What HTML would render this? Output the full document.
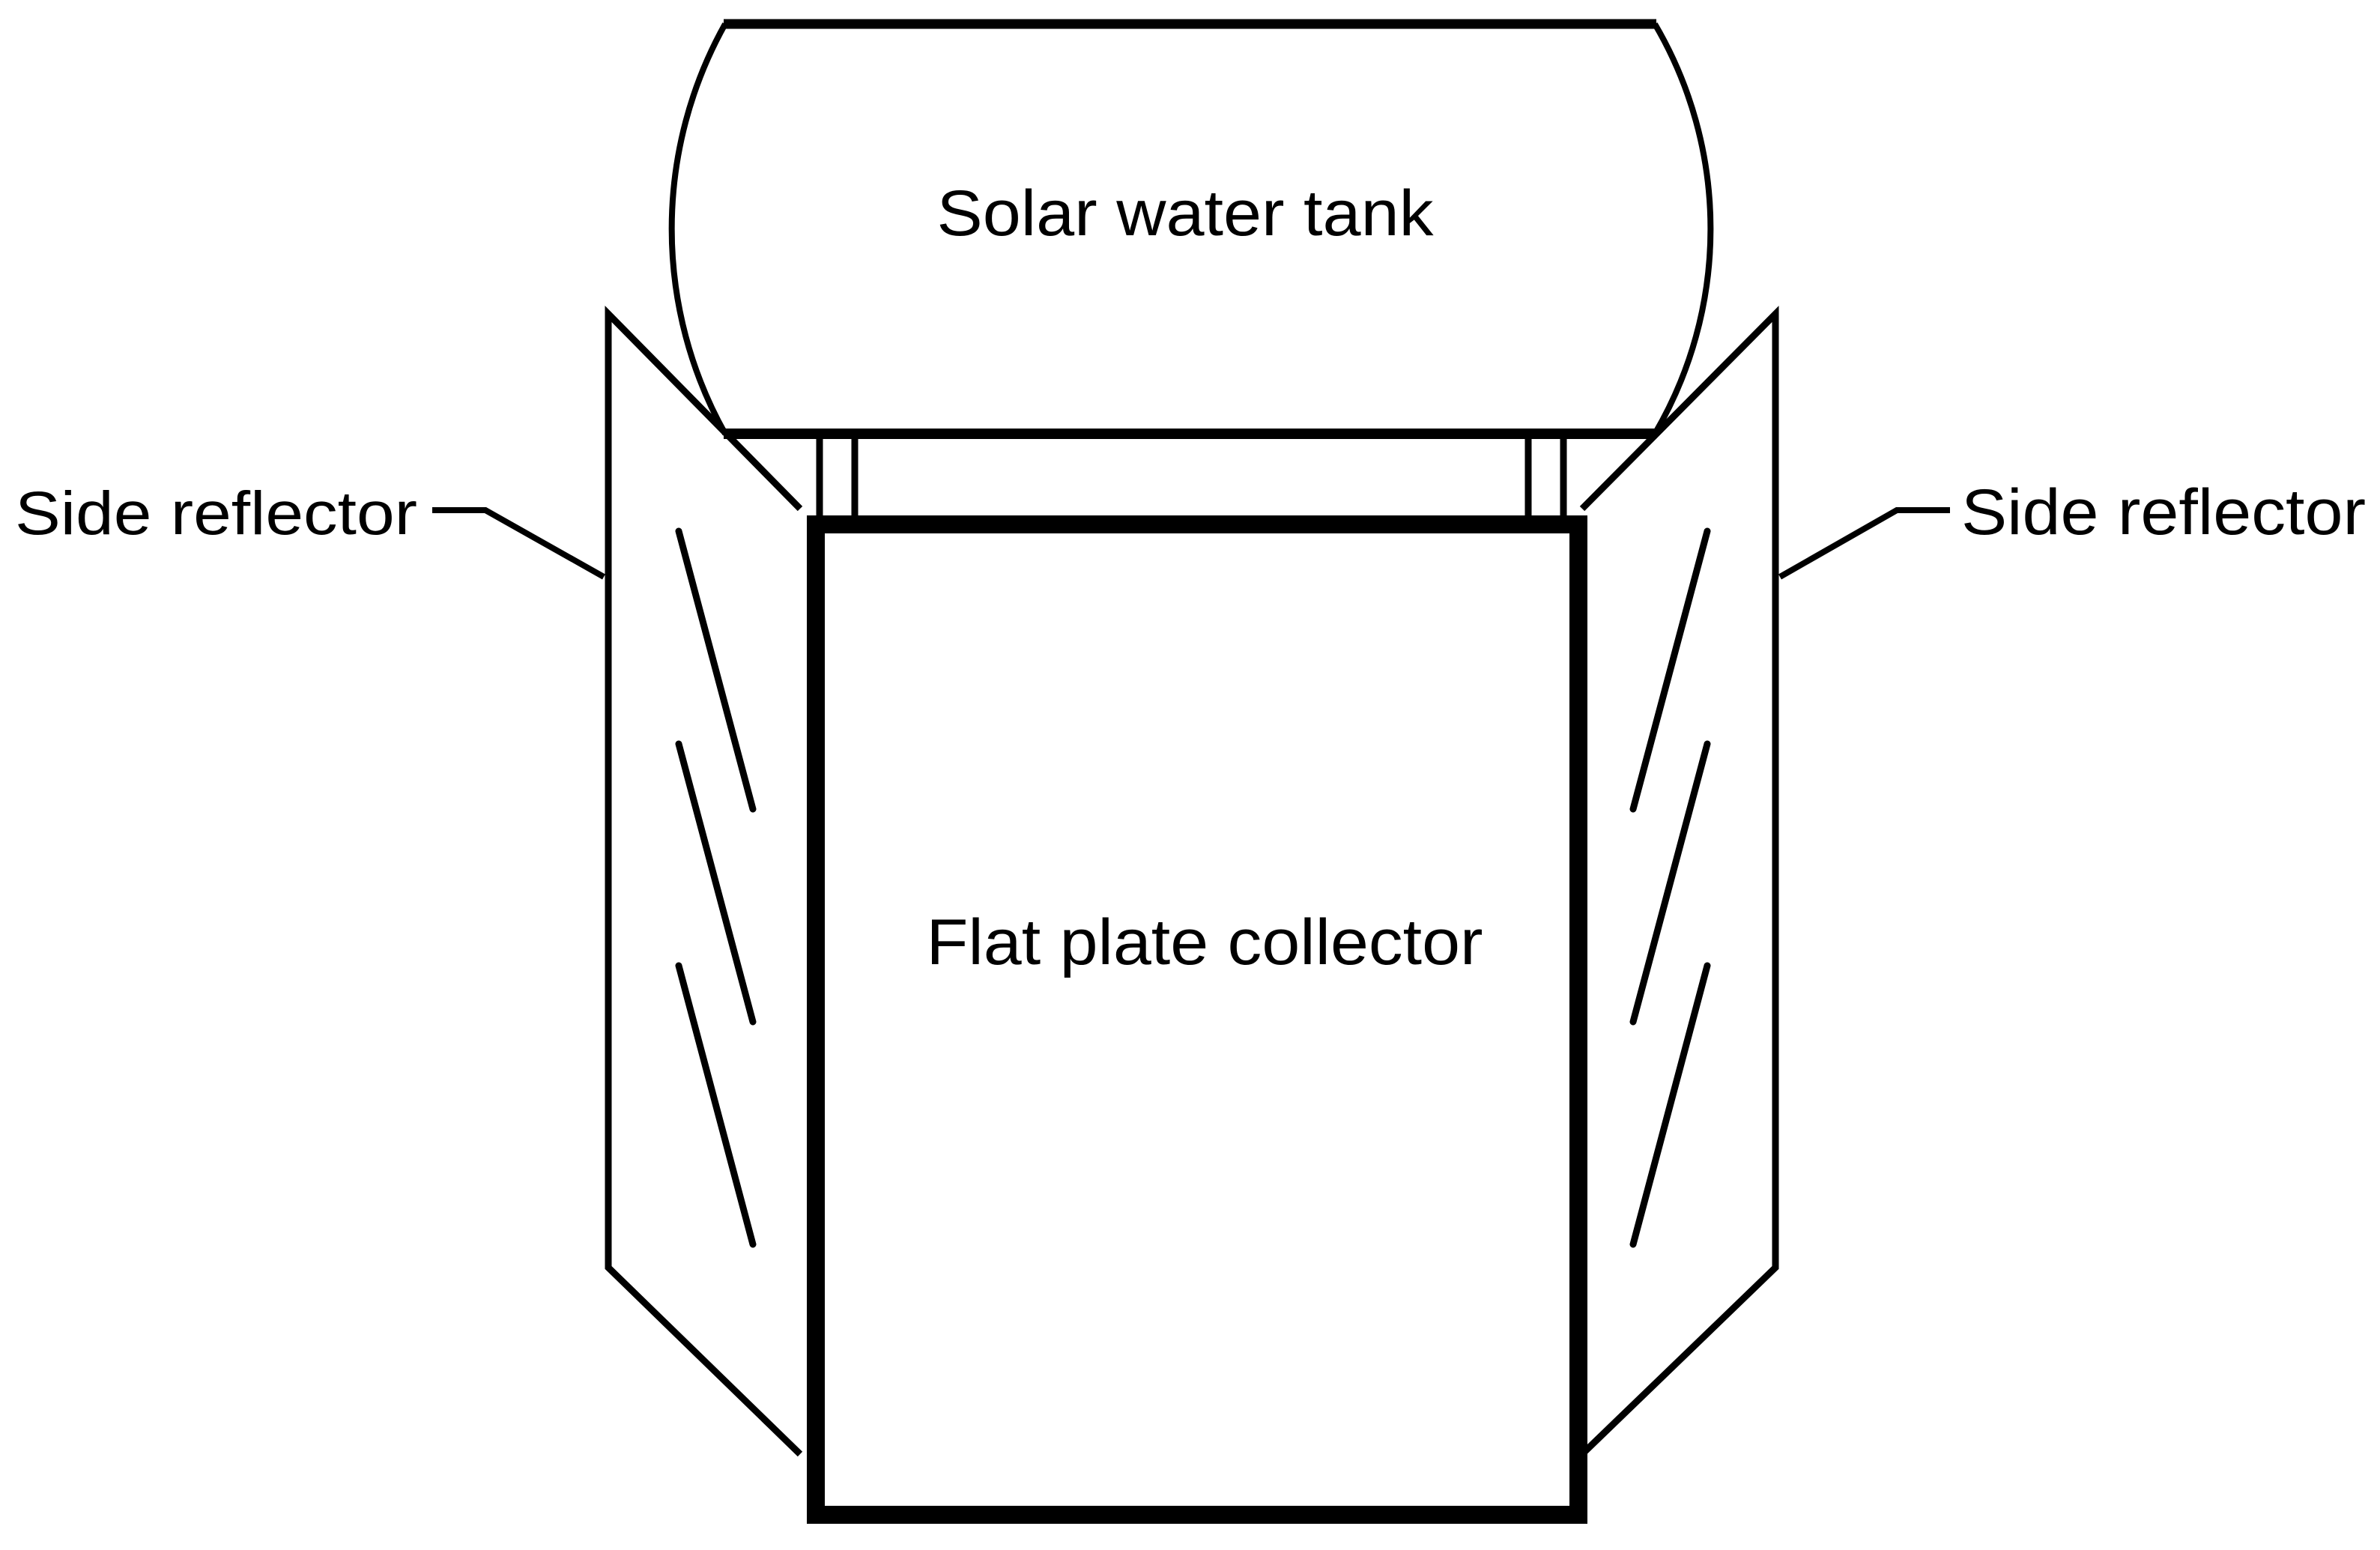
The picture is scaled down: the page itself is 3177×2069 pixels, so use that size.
<!DOCTYPE html>
<html><head><meta charset="utf-8"><style>
html,body{margin:0;padding:0;background:#fff;}
svg{display:block;}
text{font-family:"Liberation Sans",Arial,sans-serif;fill:#000;}
</style></head><body>
<svg width="3177" height="2069" viewBox="0 0 3177 2069" xmlns="http://www.w3.org/2000/svg">
<rect width="3177" height="2069" fill="#fff"/>
<g stroke="#000" fill="none" stroke-linejoin="miter">
<!-- tank -->
<path d="M968,32 A560,560 0 0 0 968,579" stroke-width="8"/>
<path d="M2209,32 A540,540 0 0 1 2209,579" stroke-width="8"/>
<line x1="966" y1="32" x2="2211" y2="32" stroke-width="13"/>
<line x1="966" y1="579" x2="2211" y2="579" stroke-width="14"/>
<!-- pipes -->
<line x1="1094" y1="579" x2="1094" y2="690" stroke-width="9"/>
<line x1="1141" y1="579" x2="1141" y2="690" stroke-width="9"/>
<line x1="2040" y1="579" x2="2040" y2="690" stroke-width="9"/>
<line x1="2087" y1="579" x2="2087" y2="690" stroke-width="9"/>
<!-- reflectors -->
<polyline points="1068,679 812,419 812,1692 1068,1941" stroke-width="9"/>
<polyline points="2112,679 2370,419 2370,1692 2112,1941" stroke-width="9"/>
<g stroke-width="9" stroke-linecap="round">
<line x1="906" y1="709" x2="1005" y2="1080"/>
<line x1="906" y1="993" x2="1005" y2="1364"/>
<line x1="906" y1="1289" x2="1005" y2="1661"/>
<line x1="2279" y1="709" x2="2180" y2="1080"/>
<line x1="2279" y1="993" x2="2180" y2="1364"/>
<line x1="2279" y1="1289" x2="2180" y2="1661"/>
</g>
<!-- collector -->
<rect x="1089" y="700" width="1018" height="1322" stroke-width="24"/>
<!-- leaders -->
<polyline points="577,681 648,681 806,770" stroke-width="8"/>
<polyline points="2376,770 2532,681 2603,681" stroke-width="8"/>
</g>
<text x="1582" y="314" font-size="86" text-anchor="middle" textLength="663" lengthAdjust="spacingAndGlyphs">Solar water tank</text>
<text x="1608" y="1287" font-size="86" text-anchor="middle" textLength="743" lengthAdjust="spacingAndGlyphs">Flat plate collector</text>
<text x="20" y="713" font-size="82" textLength="537" lengthAdjust="spacingAndGlyphs">Side reflector</text>
<text x="2618" y="713" font-size="86" textLength="540" lengthAdjust="spacingAndGlyphs">Side reflector</text>
</svg>
</body></html>
